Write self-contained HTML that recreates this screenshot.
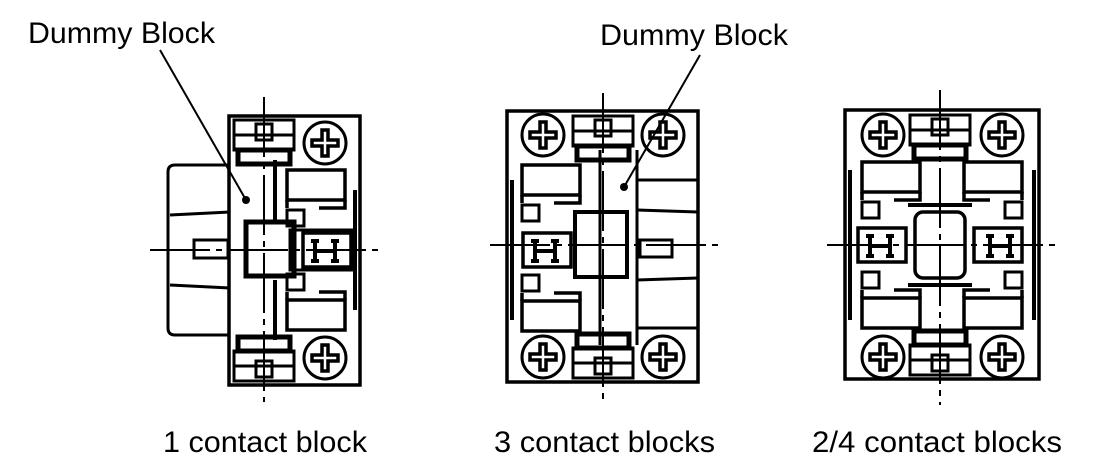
<!DOCTYPE html>
<html><head><meta charset="utf-8"><style>
html,body{margin:0;padding:0;background:#fff;width:1114px;height:473px;overflow:hidden}
svg{display:block}
text{font-family:"Liberation Sans",sans-serif;font-size:30px;fill:#000}
</style></head><body>
<svg width="1114" height="473" viewBox="0 0 1114 473" xmlns="http://www.w3.org/2000/svg">
<defs>
<g id="screw">
<circle r="21" fill="none" stroke="#000" stroke-width="3"/>
<path d="M-3,-13 h6 v10 h10 v6 h-10 v10 h-6 v-10 h-10 v-6 h10 z" fill="none" stroke="#000" stroke-width="3.5"/>
</g>
<g id="contact">
<rect x="0" y="0" width="58" height="30" fill="none" stroke="#000" stroke-width="3.5"/>
<path d="M0,30 v8 M58,30 v8 h-26" fill="none" stroke="#000" stroke-width="3.5"/>
<rect x="0" y="40" width="17" height="16" fill="none" stroke="#000" stroke-width="3"/>
</g>
<g id="hh">
<rect x="-22" y="-17" width="48" height="34" fill="none" stroke="#000" stroke-width="3.5"/>
<path d="M-10,-9 v20 M10,-9 v20 M-10,1 h20 M-6,-9 h-8 M6,-9 h8 M-6,11 h-8 M6,11 h8" stroke="#000" stroke-width="4" fill="none"/>
</g>
<g id="term">
<rect x="-30" y="0" width="60" height="30" fill="none" stroke="#000" stroke-width="3"/>
<rect x="-8" y="4" width="16" height="16" fill="none" stroke="#000" stroke-width="3"/>
<path d="M-30,15 h60" stroke="#000" stroke-width="3"/>
<rect x="-26" y="30" width="52" height="14" fill="none" stroke="#000" stroke-width="5"/>
</g>
</defs>

<g stroke="#000" fill="none" stroke-width="3">
<!-- Block 1 -->
<path d="M230,165 h-55 q-7,0 -7,7 v156 q0,7 7,7 h55"/>
<path d="M170,215 l60,-3 M170,285 l60,3"/>
<rect x="194" y="240" width="34" height="18"/>
<rect x="229" y="116" width="131" height="269" stroke-width="3.5"/>
<use href="#screw" x="325" y="143"/><use href="#screw" x="325" y="358"/>
<use href="#term" x="264" y="120"/>
<g transform="translate(264,381) scale(1,-1)"><use href="#term"/></g>
<rect x="246" y="222" width="48" height="54" stroke-width="5"/>
<rect x="290" y="230" width="62" height="40"/>
<use href="#hh" x="325" y="250"/>
<use href="#contact" x="287" y="170"/>
<g transform="translate(287,330) scale(1,-1)"><use href="#contact"/></g>
<path d="M275,160 v60 M275,280 v60" stroke-width="4"/>
<path d="M355,190 v120" stroke-width="4"/>

<!-- Block 2 -->
<rect x="507" y="111" width="191" height="271" stroke-width="3.5"/>
<use href="#screw" x="543" y="135"/><use href="#screw" x="663" y="135"/>
<use href="#screw" x="543" y="357"/><use href="#screw" x="663" y="357"/>
<path d="M600,150 v195 M637,150 v195"/>
<path d="M637,180 h61 M637,328 h61 M637,210 l61,2 M637,280 l61,-2"/>
<rect x="640" y="240" width="32" height="17"/>
<use href="#term" x="603" y="116"/>
<g transform="translate(603,378) scale(1,-1)"><use href="#term"/></g>
<rect x="575" y="212" width="52" height="65" stroke-width="4"/>
<use href="#hh" x="545" y="250"/>
<use href="#contact" x="522" y="165"/>
<g transform="translate(522,331) scale(1,-1)"><use href="#contact"/></g>
<path d="M512,180 v140" stroke-width="4"/>

<!-- Block 3 -->
<rect x="845" y="110" width="194" height="269" stroke-width="3.5"/>
<use href="#screw" x="883" y="135"/><use href="#screw" x="1002" y="135"/>
<use href="#screw" x="883" y="357"/><use href="#screw" x="1002" y="357"/>
<use href="#term" x="940" y="115"/>
<g transform="translate(940,375) scale(1,-1)"><use href="#term"/></g>
<rect x="915" y="212" width="50" height="66" rx="8" stroke-width="3.5"/>
<path d="M908,205 h64 M908,285 h64" stroke-width="4"/>
<use href="#hh" x="880" y="245"/>
<g transform="translate(1000,245) scale(-1,1)"><use href="#hh"/></g>
<use href="#contact" x="862" y="162"/>
<g transform="translate(862,328) scale(1,-1)"><use href="#contact"/></g>
<g transform="translate(1022,162) scale(-1,1)"><use href="#contact"/></g>
<g transform="translate(1022,328) scale(-1,-1)"><use href="#contact"/></g>
<path d="M850,170 v150 M1034,170 v150" stroke-width="4"/>
</g>

<!-- center lines -->
<g stroke="#000" stroke-width="2" fill="none">
<path d="M264,97 v305 M150,250 h228" stroke-dasharray="60,6,6,6"/>
<path d="M603,93 v310 M490,245 h230" stroke-dasharray="60,6,6,6"/>
<path d="M940,90 v315 M827,245 h230" stroke-dasharray="60,6,6,6"/>
</g>

<!-- leaders -->
<g stroke="#000" stroke-width="2">
<line x1="160" y1="50" x2="246" y2="200"/>
<line x1="700" y1="55" x2="624" y2="187"/>
</g>
<circle cx="246" cy="200" r="4"/><circle cx="624" cy="187" r="4"/>

<text x="28" y="43" textLength="187" lengthAdjust="spacingAndGlyphs">Dummy Block</text>
<text x="600" y="45" textLength="188" lengthAdjust="spacingAndGlyphs">Dummy Block</text>
<text x="163" y="452" textLength="204" lengthAdjust="spacingAndGlyphs">1 contact block</text>
<text x="494" y="452" textLength="221" lengthAdjust="spacingAndGlyphs">3 contact blocks</text>
<text x="812" y="452" textLength="250" lengthAdjust="spacingAndGlyphs">2/4 contact blocks</text>
</svg>
</body></html>
